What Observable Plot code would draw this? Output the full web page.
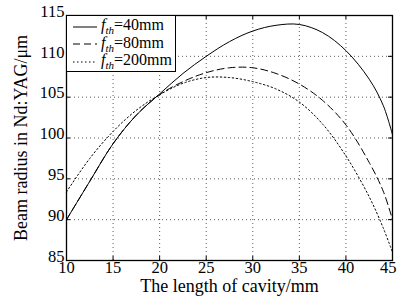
<!DOCTYPE html>
<html><head><meta charset="utf-8">
<script src="https://cdn.jsdelivr.net/npm/d3@7"></script>
<script src="https://cdn.jsdelivr.net/npm/@observablehq/plot@0.6"></script>
<style>
body{margin:0;background:#fff;}
#wrap{position:relative;width:397px;height:298px;font-family:"Liberation Serif",serif;}
#legend{position:absolute;left:66px;top:15px;width:110px;height:57px;border:1px solid #000;background:#fff;box-sizing:border-box;font-size:16px;}
.row{position:absolute;left:0;height:17px;display:flex;align-items:center;white-space:nowrap;}
.row svg{margin-left:6px;margin-right:4px;}
</style>
</head><body><div id="wrap"><div id="legend"></div></div>
<script>
const xs = [10, 12.5, 15, 17.5, 20, 22.5, 25, 27.5, 30, 32.5, 35, 37.5, 40, 42.5, 44, 45];
const f40 = [90, 94.7, 99.3, 102.8, 105.4, 107.9, 110, 111.8, 113.1, 113.8, 113.9, 112.9, 110.7, 107.2, 104.0, 100.4];
const f80 = [90, 94.7, 99.3, 102.8, 105.3, 106.9, 108.0, 108.6, 108.6, 107.9, 106.6, 104.6, 101.6, 97.0, 93.5, 90];
const f200 = [93.4, 97.5, 100.8, 103.4, 105.3, 106.7, 107.4, 107.4, 106.9, 106.0, 104.4, 101.7, 97.8, 92.8, 89.0, 86];
const seriesNames = ["40mm", "80mm", "200mm"];
const dashes = ["none", "7,4", "1.5,2.5"];
const xTicks = [10, 15, 20, 25, 30, 35, 40, 45];
const yTicks = [85, 90, 95, 100, 105, 110, 115];

const allSeries = [f40, f80, f200];
const data = [];
allSeries.forEach((arr, s) => arr.forEach((v, i) => data.push({x: xs[i], y: v, s: seriesNames[s]})));

const W = 397, H = 298, ML = 66, MR = 5, MT = 15, MB = 38;
const PW = W - ML - MR, PH = H - MT - MB, TL = 4;

const marks = [
  Plot.gridX(xTicks, {stroke: "#333", strokeOpacity: 0.8, strokeDasharray: "1,3"}),
  Plot.gridY(yTicks, {stroke: "#333", strokeOpacity: 0.8, strokeDasharray: "1,3"}),
  // inward ticks on all four sides
  Plot.tickX(xTicks, {x: d => d, insetTop: PH - TL, stroke: "#000"}),
  Plot.tickX(xTicks, {x: d => d, insetBottom: PH - TL, stroke: "#000"}),
  Plot.tickY(yTicks, {y: d => d, insetRight: PW - TL, stroke: "#000"}),
  Plot.tickY(yTicks, {y: d => d, insetLeft: PW - TL, stroke: "#000"}),
  Plot.frame({stroke: "#000", strokeWidth: 1.3}),
  Plot.axisX(xTicks.slice(0, -1), {anchor: "bottom", tickSize: 0, tickPadding: 1, label: null}),
  Plot.axisX(xTicks.slice(-1), {anchor: "bottom", tickSize: 0, tickPadding: 1, textAnchor: "end", dx: 4, label: null}),
  Plot.axisX({anchor: "bottom", ticks: [], tickSize: 0, label: "The length of cavity/mm", labelAnchor: "center", labelOffset: 31, labelArrow: "none"}),
  Plot.axisY(yTicks, {anchor: "left", tickSize: 0, tickPadding: 2, dy: -4, label: null}),
  Plot.axisY({anchor: "left", ticks: [], tickSize: 0, label: "Beam radius in Nd:YAG/μm", labelAnchor: "center", labelOffset: 52, labelArrow: "none"}),
];
seriesNames.forEach((n, s) => {
  marks.push(Plot.line(data.filter(d => d.s === n), {x: "x", y: "y", stroke: "#000", strokeWidth: 1, strokeDasharray: dashes[s], curve: "catmull-rom"}));
});

const plot = Plot.plot({
  width: W, height: H,
  marginLeft: ML, marginRight: MR, marginTop: MT, marginBottom: MB,
  style: {fontFamily: "Liberation Serif, serif", color: "#000", background: "#fff"},
  x: {domain: [10, 45]},
  y: {domain: [85, 115]},
  marks
});
document.getElementById("wrap").prepend(plot);
d3.select(plot).selectAll("text").each(function() {
  const isTick = /^\d+$/.test(this.textContent.trim());
  this.style.fontFamily = '"Liberation Serif", serif';
  this.style.fontSize = isTick ? "16.5px" : "18px";
  this.style.fontVariant = "normal";
});

// legend
const lg = document.getElementById("legend");
seriesNames.forEach((n, s) => {
  const row = document.createElement("div");
  row.className = "row";
  row.style.top = (2 + s * 17.5) + "px";
  row.innerHTML = `<svg width="24" height="10"><line x1="0" x2="24" y1="5" y2="5" stroke="#000" stroke-width="1" stroke-dasharray="${dashes[s] === "none" ? "" : dashes[s]}"/></svg><span><i>f</i><sub style="font-size:11px;font-style:italic">th</sub>=${n}</span>`;
  lg.appendChild(row);
});
</script></body></html>
